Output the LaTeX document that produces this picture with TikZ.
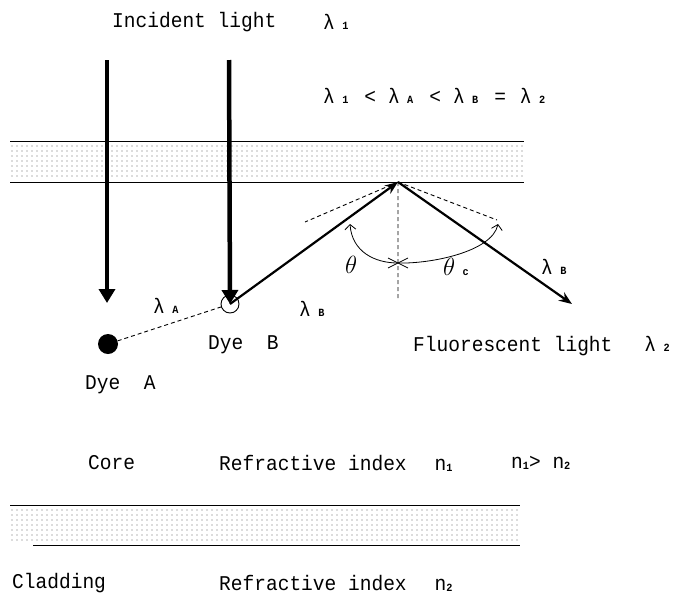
\documentclass[tikz,border=0pt]{standalone}
\usepackage{fontspec}
\setmainfont[FakeStretch=0.93]{Liberation Mono}
\usetikzlibrary{positioning,arrows.meta,calc}
\newcommand{\lam}[1]{λ\hspace{0.35em}{\fontsize{11}{11}\selectfont\bfseries #1}}
\newcommand{\idx}[1]{n\raisebox{-1pt}{\fontsize{11}{11}\selectfont\bfseries #1}}

\begin{document}
\begin{tikzpicture}[x=1pt,y=-1pt,font=\fontsize{21}{23}\selectfont,
  lbl/.style={inner sep=0pt,anchor=west},
  beam/.style={line width=4.5pt,-{Triangle[length=14pt,width=16pt]}},
  ray/.style={line width=2.2pt,-{Stealth[length=13pt,width=10pt]}},
  guide/.style={line width=0.9pt,dash pattern=on 4pt off 3pt}]
\useasboundingbox (0,0) rectangle (695,603);
% cladding bands
\foreach \x in {12,17,...,522} \foreach \y in {146,151,...,178} \fill[black!60] (\x,\y) circle (0.65);
\foreach \x in {12,17,...,518} \foreach \y in {510,515,...,541} \fill[black!60] (\x,\y) circle (0.65);
\draw[line width=0.9pt] (10,141) -- (524,141) (10,182) -- (524,182);
\draw[line width=0.9pt] (10,505) -- (520,505) (33,545) -- (520,545);

\node[lbl] (incident) at (112,22) {Incident light};
\node[lbl] (lamone) at (323,22) {\lam{1}};
\node[lbl] (relation) at (323,96) {\lam{1}\hspace{16pt}<\hspace{12pt}\lam{A}\hspace{16pt}<\hspace{12pt}\lam{B}\hspace{16pt}=\hspace{14pt}\lam{2}};

\node[circle,fill,inner sep=0pt,minimum size=20pt] (dyeA) at (108,344) {};
\node[circle,draw,line width=0.9pt,inner sep=0pt,minimum size=18pt] (dyeB) at (230,304) {};
\coordinate (topA) at (107,60);
\coordinate (topB) at (229,60);
\coordinate (tipA) at (107,303);
\coordinate (apex) at (398,182);
\coordinate (exit) at (572,304);
\draw[beam] (topA) -- (tipA);
\draw[beam] (topB) -- (dyeB.center);
\draw[guide] (dyeA) -- (dyeB);
\draw[ray] (dyeB.center) -- (apex);
\draw[ray] (apex) -- (exit);

% angles at the interface
\coordinate (left) at (305,222);
\coordinate (right) at (497,220);
\coordinate (normal) at (398,300);
\coordinate (mark) at (398,263);
\draw[guide] (apex) -- (left) (apex) -- (right) (apex) -- (normal);
\draw[line width=0.8pt,{Straight Barb[length=5pt,width=11pt]}-{Straight Barb[length=5pt,width=11pt]}]
  (350,224) .. controls (352,252) and (375,263) .. (mark)
  .. controls (430,264) and (492,252) .. (498,224);
\draw[line width=0.8pt] (388,258) -- (408,268) (388,268) -- (408,258);

\node[lbl] (theta) at (345,265) {\fontsize{25}{25}\selectfont$\theta$};
\node[lbl] (thetac) at (443,267) {\fontsize{25}{25}\selectfont$\theta$\hspace{0.3em}{\fontsize{11}{11}\selectfont\bfseries c}};
\node[lbl] (lamBout) at (541,267) {\lam{B}};
\node[lbl] (lamA) at (153,306) {\lam{A}};
\node[lbl] (lamBin) at (299,309) {\lam{B}};

\node[lbl] (dyeBtext) at (208,345) {Dye~~B};
\node[lbl] (fluor) at (413,346) {Fluorescent light\hspace{32pt}\lam{2}};
\node[lbl] (dyeAtext) at (85,385) {Dye~~A};

\node[lbl] (core) at (88,463) {Core};
\node[lbl] (corendx) at (219,463) {Refractive index\hspace{28pt}\idx{1}};
\node[lbl] (compare) at (511,463) {\idx{1}>~\idx{2}};
\node[lbl] (clad) at (12,583) {Cladding};
\node[lbl] (cladndx) at (219,583) {Refractive index\hspace{28pt}\idx{2}};
\end{tikzpicture}
\end{document}
